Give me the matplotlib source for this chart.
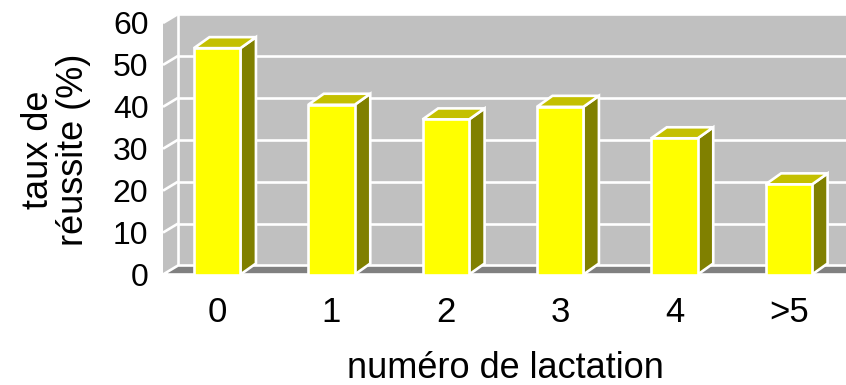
import matplotlib
matplotlib.use("Agg")
import matplotlib.pyplot as plt
from matplotlib.patches import Polygon
from matplotlib.transforms import blended_transform_factory

# Data
categories = ["0", "1", "2", "3", "4", ">5"]
taux_reussite = [54, 40.5, 37, 40, 32.5, 21.5]
y_ticks = [0, 10, 20, 30, 40, 50, 60]

plt.rcParams["font.family"] = ["Liberation Sans", "DejaVu Sans"]

W, H = 846, 385
fig = plt.figure(figsize=(W / 100, H / 100), dpi=100)

# front plane of the 3D box, in pixels
left_px, right_px = 163, 846
zero_px, top_px = 274.5, 23.0
ax = fig.add_axes([left_px / W, 1 - zero_px / H,
                   (right_px - left_px) / W, (zero_px - top_px) / H])

x0, x1 = -0.474, 5.50
ax.set_xlim(x0, x1)
ax.set_ylim(0, 60)
for s in ax.spines.values():
    s.set_visible(False)
ax.set_facecolor("none")

# depth offsets (data units)
px_x = (x1 - x0) / (right_px - left_px)
px_y = 60 / (zero_px - top_px)
dxw, dyw = 15 * px_x, 9 * px_y      # walls / floor depth
dxb, dyb = 15.5 * px_x, 11 * px_y   # bar depth
bar_w = 46.5 * px_x

wall = "#c0c0c0"
floor = "#808080"
white = "white"
lw = 1.9

def poly(pts, fc, z, ec=white):
    ax.add_patch(Polygon(pts, closed=True, facecolor=fc, edgecolor=ec,
                         linewidth=lw, joinstyle="miter", clip_on=False, zorder=z))

ymax = y_ticks[-1]
# back wall
poly([(x0 + dxw, dyw), (x1 + dxw + 1, dyw), (x1 + dxw + 1, ymax + dyw),
      (x0 + dxw, ymax + dyw)], wall, 1, ec="none")
# side wall
poly([(x0, 0), (x0 + dxw, dyw), (x0 + dxw, ymax + dyw), (x0, ymax)], wall, 1, ec="none")

# gridlines on back wall and side wall
for v in y_ticks[1:]:
    ax.plot([x0 + dxw, x1 + dxw + 1], [v + dyw, v + dyw], color=white, lw=lw,
            clip_on=False, zorder=2, solid_capstyle="butt")
    ax.plot([x0, x0 + dxw], [v, v + dyw], color=white, lw=lw,
            clip_on=False, zorder=2, solid_capstyle="butt")
ax.plot([x0 + dxw, x0 + dxw], [dyw, ymax + dyw], color=white, lw=lw,
        clip_on=False, zorder=2)

# floor
poly([(x0, 0), (x0 + dxw, dyw), (x1 + dxw + 1, dyw), (x1 + 1, 0)], floor, 3)

# bars
for i, v in enumerate(taux_reussite):
    l, r = i - bar_w / 2, i + bar_w / 2
    poly([(r, 0), (r + dxb, dyb), (r + dxb, v + dyb), (r, v)], "#808000", 5)
    poly([(l, v), (l + dxb, v + dyb), (r + dxb, v + dyb), (r, v)], "#c4c000", 5)
    poly([(l, 0), (r, 0), (r, v), (l, v)], "#ffff00", 6)

# axis ticks and labels
ax.set_yticks(y_ticks)
ax.set_yticklabels([str(t) for t in y_ticks], fontsize=23)
ax.tick_params(axis="y", length=0, pad=10.5)
ax.set_xticks([])

tr = blended_transform_factory(ax.transData, fig.transFigure)
for i, c in enumerate(categories):
    ax.text(i, 1 - 312 / H, c, transform=tr, ha="center", va="center", fontsize=25)

fig.text(505 / W, 1 - 368 / H, "numéro de lactation", ha="center", va="center",
         fontsize=26)
fig.text(56 / W, 1 - 150 / H, "taux de\nréussite (%)", ha="center", va="center",
         rotation=90, fontsize=26, linespacing=1.0, multialignment="center")

fig.savefig("out.png", dpi=100)
